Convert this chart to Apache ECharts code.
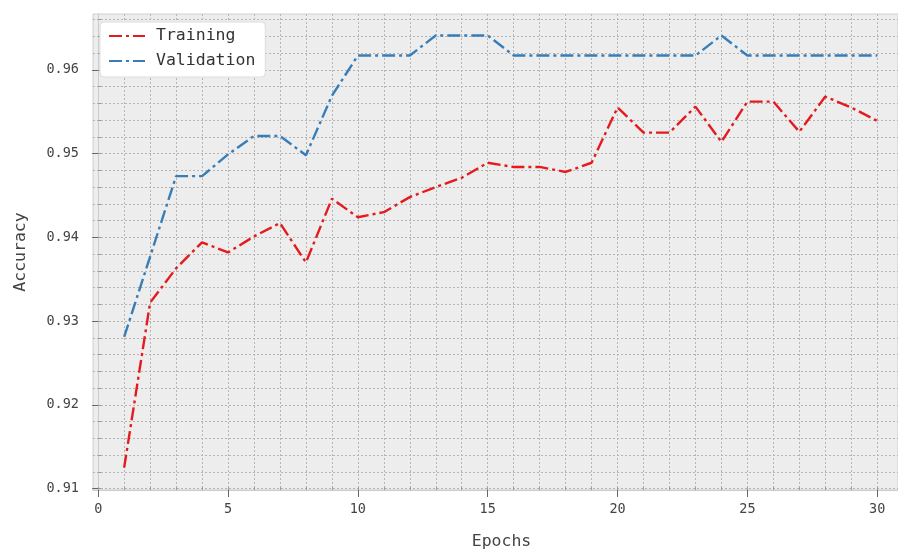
<!DOCTYPE html>
<html>
<head>
<meta charset="utf-8">
<script src="https://cdn.jsdelivr.net/npm/echarts@6/dist/echarts.min.js"></script>
<style>html,body{margin:0;padding:0;background:#fff}#c{width:898px;height:550px}</style>
</head>
<body>
<div id="c"></div>
<script>
const epochs = [1,2,3,4,5,6,7,8,9,10,11,12,13,14,15,16,17,18,19,20,21,22,23,24,25,26,27,28,29,30];
const training = [0.9125,0.9322,0.9363,0.9394,0.9382,0.9401,0.9417,0.9370,0.9446,0.9424,0.9430,0.9448,0.9460,0.9471,0.9489,0.9484,0.9484,0.9478,0.9489,0.9555,0.9525,0.9525,0.9556,0.9514,0.9562,0.9562,0.9526,0.9568,0.9555,0.9539];
const validation = [0.9281,0.9377,0.9473,0.9473,0.9499,0.9521,0.9521,0.9498,0.9569,0.9617,0.9617,0.9617,0.9641,0.9641,0.9641,0.9617,0.9617,0.9617,0.9617,0.9617,0.9617,0.9617,0.9617,0.9641,0.9617,0.9617,0.9617,0.9617,0.9617,0.9617];
const xMajorTicks = [0,5,10,15,20,25,30];
const xMinorTicks = [0,1,2,3,4,5,6,7,8,9,10,11,12,13,14,15,16,17,18,19,20,21,22,23,24,25,26,27,28,29,30];
const yMajorTicks = [0.91,0.92,0.93,0.94,0.95,0.96];
const yMinorTicks = [0.910,0.912,0.914,0.916,0.918,0.920,0.922,0.924,0.926,0.928,0.930,0.932,0.934,0.936,0.938,0.940,0.942,0.944,0.946,0.948,0.950,0.952,0.954,0.956,0.958,0.960,0.962,0.964,0.966];

const FONT = "'DejaVu Sans Mono', monospace";
const TXT = '#444';
const xMin = -0.2, xMax = 30.8, yMin = 0.90983, yMax = 0.96666;
const dashDot = [13, 4, 3, 4];

const chart = echarts.init(document.getElementById('c'), null, {renderer: 'canvas'});
chart.setOption({
  animation: false,
  backgroundColor: '#ffffff',
  textStyle: {fontFamily: FONT},
  grid: {left: 93, right: 0, top: 14, bottom: 60, containLabel: false, outerBoundsMode: 'none',
    show: true, backgroundColor: '#ededed', borderColor: '#d0d0d0', borderWidth: 1},
  legend: {
    left: 100, top: 22, orient: 'vertical',
    backgroundColor: '#ffffff', borderColor: '#dddddd', borderWidth: 1, borderRadius: 4,
    padding: [4, 10, 6, 8],
    itemWidth: 36, itemHeight: 14, itemGap: 5,
    itemStyle: {color: 'rgba(0,0,0,0)', borderWidth: 0, opacity: 0},
    textStyle: {fontFamily: FONT, fontSize: 16.5, color: '#333', lineHeight: 20, padding: [0,0,0,6]},
    data: ['Training', 'Validation']
  },
  xAxis: [
    {
      type: 'value', min: xMin, max: xMax, position: 'bottom',
      name: 'Epochs', nameLocation: 'middle', nameGap: 43,
      nameTextStyle: {fontFamily: FONT, fontSize: 16.5, color: TXT, padding: [0, 0, 0, 12]},
      axisLine: {show: true, lineStyle: {color: '#cccccc'}},
      axisTick: {show: true, customValues: xMajorTicks, length: 7, lineStyle: {color: '#666'}},
      axisLabel: {customValues: xMajorTicks, fontFamily: FONT, fontSize: 13.5, color: TXT, margin: 12},
      splitLine: {show: true, lineStyle: {color: '#9a9a9a', type: [2, 2], width: 1}}
    },
    {
      type: 'value', min: xMin, max: xMax, position: 'bottom',
      axisLine: {show: false},
      axisTick: {show: true, inside: true, customValues: xMinorTicks, length: 3, lineStyle: {color: '#999'}},
      axisLabel: {show: false},
      splitLine: {show: true, lineStyle: {color: '#b5b5b5', type: [2, 2], width: 1}}
    }
  ],
  yAxis: [
    {
      type: 'value', min: yMin, max: yMax, position: 'left',
      name: 'Accuracy', nameLocation: 'middle', nameGap: 64, nameRotate: 90,
      nameTextStyle: {fontFamily: FONT, fontSize: 16.5, color: TXT},
      axisLine: {show: true, lineStyle: {color: '#cccccc'}},
      axisTick: {show: true, customValues: yMajorTicks, length: 6, lineStyle: {color: '#666'}},
      axisLabel: {customValues: yMajorTicks, fontFamily: FONT, fontSize: 13.5, color: TXT, margin: 14,
        formatter: v => v.toFixed(2)},
      splitLine: {show: true, lineStyle: {color: '#9a9a9a', type: [2, 2], width: 1}}
    },
    {
      type: 'value', min: yMin, max: yMax, position: 'left',
      axisLine: {show: false},
      axisTick: {show: true, inside: true, customValues: yMinorTicks, length: 3, lineStyle: {color: '#999'}},
      axisLabel: {show: false},
      splitLine: {show: true, lineStyle: {color: '#b5b5b5', type: [2, 2], width: 1}}
    }
  ],
  series: [
    {
      name: 'Training', type: 'line', xAxisIndex: 0, yAxisIndex: 0,
      data: epochs.map((e, i) => [e, training[i]]),
      showSymbol: false, symbol: 'none',
      lineStyle: {color: '#e41a1c', width: 2.4, type: dashDot},
      itemStyle: {color: '#e41a1c'}, z: 5
    },
    {
      name: 'Validation', type: 'line', xAxisIndex: 0, yAxisIndex: 0,
      data: epochs.map((e, i) => [e, validation[i]]),
      showSymbol: false, symbol: 'none',
      lineStyle: {color: '#377eb8', width: 2.4, type: dashDot},
      itemStyle: {color: '#377eb8'}, z: 5
    }
  ]
});
</script>
</body>
</html>
